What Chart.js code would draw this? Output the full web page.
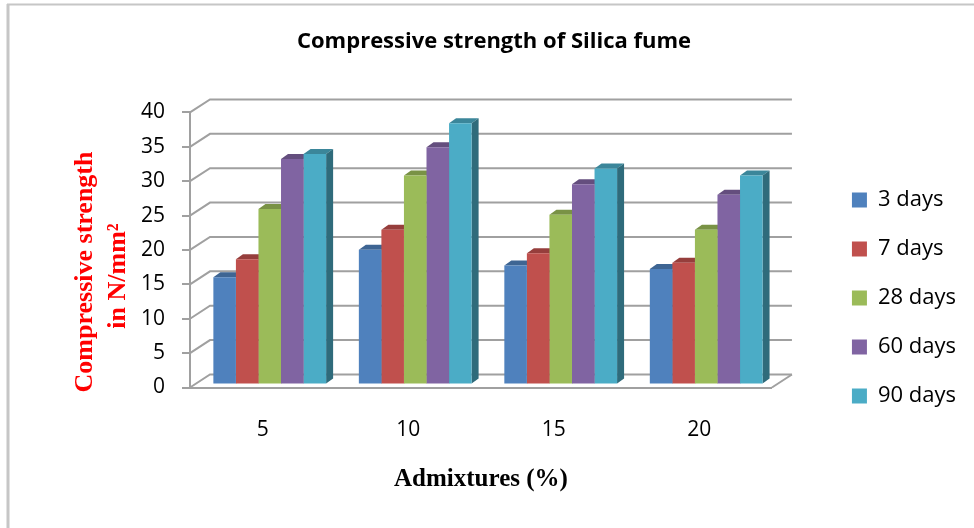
<!DOCTYPE html>
<html>
<head>
<meta charset="utf-8">
<script src="https://cdn.jsdelivr.net/npm/chart.js@4.4.1/dist/chart.umd.min.js"></script>
<style>
  html, body { margin: 0; padding: 0; background: #fff; }
  #wrap { width: 974px; height: 528px; position: relative; }
</style>
</head>
<body>
<div id="wrap"><canvas id="strengthChart"></canvas></div>
<script>
// --- Dữ liệu ---
const admixtures = ['5', '10', '15', '20'];
const seriesNames = ['3 days', '7 days', '28 days', '60 days', '90 days'];
const days3  = [15.6, 19.6, 17.3, 16.8];
const days7  = [18.2, 22.5, 19.1, 17.7];
const days28 = [25.5, 30.4, 24.7, 22.5];
const days60 = [32.8, 34.5, 29.1, 27.6];
const days90 = [33.5, 38.0, 31.4, 30.4];
const yTicks = [0, 5, 10, 15, 20, 25, 30, 35, 40];
const yTitleLines = ['Compressive strength', 'in N/mm\u00b2'];

// --- Màu ---
const frontColors = ['#4F81BD', '#C0504D', '#9BBB59', '#8064A2', '#4BACC6'];
const gridGray = '#a0a0a0';

// độ sâu 3D giả
const WALL = { dx: 20, dy: -13 };   // tường sau
const SHIFT = { dx: 7, dy: -3 };    // cột lùi vào trong
const DEPTH = { dx: 7, dy: -5 };    // mặt trên / mặt bên

function shade(hex, f) {
    const n = parseInt(hex.slice(1), 16);
    const r = Math.round(((n >> 16) & 255) * f);
    const g = Math.round(((n >> 8) & 255) * f);
    const b = Math.round((n & 255) * f);
    return 'rgb(' + r + ',' + g + ',' + b + ')';
}

const fake3d = {
    id: 'fake3d',
    afterLayout(chart) {
        // dời chú thích cho giống bản gốc
        chart.legend.top += 34;
        chart.legend.bottom += 34;
        chart.legend.left -= 8;
        chart.legend.right -= 8;
    },
    beforeDraw(chart) {
        const ctx = chart.ctx;
        const y = chart.scales.y;
        const { left, right, bottom } = chart.chartArea;

        // khung ngoài
        ctx.save();
        ctx.strokeStyle = '#c6c6c6';
        ctx.lineWidth = 3;
        ctx.beginPath();
        ctx.moveTo(8, 4); ctx.lineTo(8, 528);
        ctx.stroke();
        ctx.lineWidth = 2;
        ctx.beginPath();
        ctx.moveTo(7, 4.5); ctx.lineTo(974, 4.5);
        ctx.stroke();

        // lưới tường sau + đường chéo bên trái
        ctx.strokeStyle = gridGray;
        ctx.lineWidth = 2;
        y.ticks.forEach(t => {
            const py = y.getPixelForValue(t.value);
            ctx.beginPath();
            ctx.moveTo(left, py);
            ctx.lineTo(left + WALL.dx, py + WALL.dy);
            ctx.lineTo(right + WALL.dx, py + WALL.dy);
            ctx.stroke();
        });
        // cạnh phải của sàn
        ctx.beginPath();
        ctx.moveTo(right, bottom);
        ctx.lineTo(right + WALL.dx, bottom + WALL.dy);
        ctx.stroke();
        ctx.restore();
    },
    beforeDatasetsDraw(chart) {
        const ctx = chart.ctx;
        ctx.save();
        ctx.translate(SHIFT.dx, SHIFT.dy);
        chart.data.datasets.forEach((ds, i) => {
            const meta = chart.getDatasetMeta(i);
            const col = frontColors[i];
            meta.data.forEach(bar => {
                const l = bar.x - bar.width / 2;
                const r = bar.x + bar.width / 2;
                const top = bar.y;
                const base = bar.base;
                // mặt trên
                ctx.fillStyle = shade(col, 0.78);
                ctx.beginPath();
                ctx.moveTo(l, top);
                ctx.lineTo(l + DEPTH.dx, top + DEPTH.dy);
                ctx.lineTo(r + DEPTH.dx, top + DEPTH.dy);
                ctx.lineTo(r, top);
                ctx.closePath();
                ctx.fill();
                // mặt bên
                ctx.fillStyle = shade(col, 0.62);
                ctx.beginPath();
                ctx.moveTo(r, top);
                ctx.lineTo(r + DEPTH.dx, top + DEPTH.dy);
                ctx.lineTo(r + DEPTH.dx, base + DEPTH.dy);
                ctx.lineTo(r, base);
                ctx.closePath();
                ctx.fill();
            });
        });
        // giữ translate cho mặt trước của cột
    },
    afterDatasetsDraw(chart) {
        chart.ctx.restore();
    },
    afterDraw(chart) {
        // tiêu đề trục Y (xoay dọc, 2 dòng)
        const ctx = chart.ctx;
        ctx.save();
        ctx.fillStyle = '#ff0000';
        ctx.font = 'bold 26px "Liberation Serif"';
        ctx.textAlign = 'center';
        ctx.textBaseline = 'middle';
        ctx.translate(85, 272);
        ctx.rotate(-Math.PI / 2);
        ctx.fillText(yTitleLines[0], 0, 0);
        ctx.fillText(yTitleLines[1], -4, 33);
        ctx.restore();
    }
};

const seriesData = [days3, days7, days28, days60, days90];

const chartData = {
    labels: admixtures,
    datasets: seriesNames.map((name, i) => ({
        label: name,
        data: seriesData[i],
        backgroundColor: frontColors[i],
        borderWidth: 0,
        barPercentage: 1.0,
        categoryPercentage: 0.775
    }))
};

const chartOptions = {
    responsive: true,
    maintainAspectRatio: false,
    animation: false,
    layout: { padding: { top: 0, right: 0, bottom: 0, left: 14 } },
    scales: {
        x: {
            afterFit: s => { s.height = 140.5; },
            grid: { display: false, drawTicks: false },
            border: { display: true, color: gridGray, width: 2 },
            ticks: { color: '#000', padding: 29.5, font: { family: 'Open Sans', size: 21 } },
            title: {
                display: true,
                text: 'Admixtures (%)',
                color: '#000',
                font: { family: 'Liberation Serif', size: 25, weight: 'bold' },
                padding: { top: 0, bottom: 33 }
            }
        },
        y: {
            min: 0,
            max: 40,
            afterBuildTicks: s => { s.ticks = yTicks.map(v => ({ value: v })); },
            afterFit: s => { s.width = 176; },
            grid: { drawOnChartArea: false, drawTicks: true, tickLength: 8, color: gridGray, lineWidth: 2 },
            border: { display: true, color: gridGray, width: 2 },
            ticks: { color: '#000', padding: 17, font: { family: 'Open Sans', size: 21 } }
        },
        spacer: {
            type: 'linear',
            position: 'right',
            grid: { display: false, drawTicks: false },
            border: { display: false },
            ticks: { display: false },
            afterFit: s => { s.width = 61; }
        }
    },
    plugins: {
        title: {
            display: true,
            text: 'Compressive strength of Silica fume',
            color: '#000',
            font: { family: 'Open Sans', size: 22, weight: 'bold' },
            padding: { top: 29, bottom: 57 }
        },
        legend: {
            position: 'right',
            align: 'center',
            labels: {
                color: '#000',
                boxWidth: 15,
                boxHeight: 15,
                padding: 27,
                font: { family: 'Open Sans', size: 22 }
            }
        },
        tooltip: { enabled: false }
    }
};

new Chart(document.getElementById('strengthChart'), {
    type: 'bar',
    data: chartData,
    options: chartOptions,
    plugins: [fake3d]
});
</script>
</body>
</html>
